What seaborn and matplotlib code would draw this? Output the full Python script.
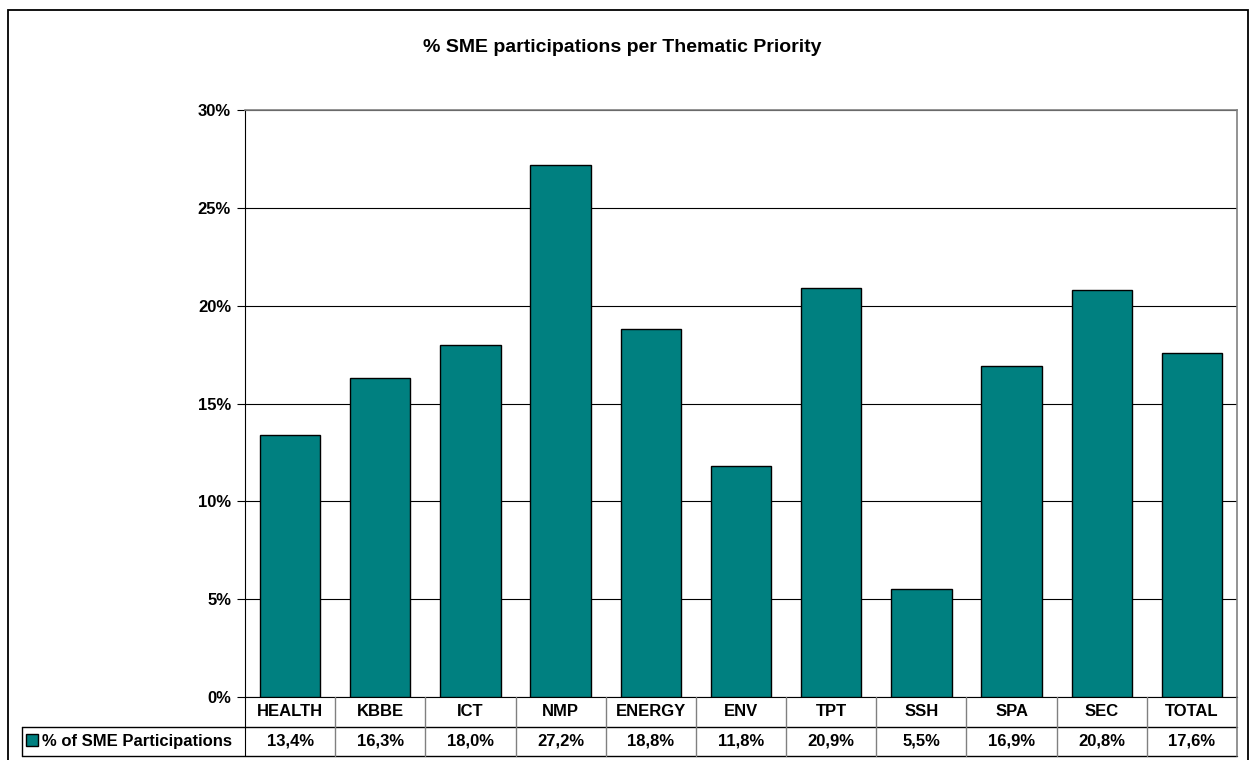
import numpy as np
import pandas as pd
import matplotlib
matplotlib.use("Agg")
import matplotlib.pyplot as plt
import matplotlib.transforms as mtrans
from matplotlib.lines import Line2D
from matplotlib.patches import Rectangle
from matplotlib.ticker import PercentFormatter, MultipleLocator
import seaborn as sns

# data
temi = ["HEALTH", "KBBE", "ICT", "NMP", "ENERGY", "ENV", "TPT", "SSH", "SPA", "SEC", "TOTAL"]
quota_pmi = [13.4, 16.3, 18.0, 27.2, 18.8, 11.8, 20.9, 5.5, 16.9, 20.8, 17.6]
nome_serie = "% of SME Participations"
titolo = "% SME participations per Thematic Priority"

TEAL = "#008080"
W, H = 1249, 760

sns.set_style("white")
plt.rcParams["font.family"] = ["Liberation Sans", "DejaVu Sans"]
plt.rcParams["font.weight"] = "bold"
plt.rcParams["text.color"] = "black"
plt.rcParams["ytick.color"] = "black"
plt.rcParams["ytick.labelcolor"] = "black"

df = pd.DataFrame({"tema": temi, "quota": quota_pmi})

fig = plt.figure(figsize=(W / 100, H / 100), dpi=100)
# plot area in pixels: left 245, right 1237, top 110, bottom 697
ax = fig.add_axes([245 / W, 1 - 697 / H, (1237 - 245) / W, (697 - 110) / H])

sns.barplot(data=df, x="tema", y="quota", color=TEAL, saturation=1,
            edgecolor="black", linewidth=1.0, width=0.67, ax=ax, zorder=3)

ax.set_ylim(0, 30)
ax.set_xlim(-0.5, len(temi) - 0.5)
ax.yaxis.set_major_locator(MultipleLocator(5))
ax.yaxis.set_major_formatter(PercentFormatter(decimals=0))
ax.grid(axis="y", color="black", linewidth=0.8, zorder=0)
ax.set_axisbelow(True)
ax.set_xlabel("")
ax.set_ylabel("")
ax.set_xticks([])
ax.tick_params(axis="y", which="major", left=True, length=6, width=0.8,
               color="black", labelcolor="black", labelsize=12, pad=4)
for lab in ax.get_yticklabels():
    lab.set_fontweight("bold")
for s in ["top", "right"]:
    ax.spines[s].set_color("#808080")
    ax.spines[s].set_linewidth(1.2)
ax.spines["left"].set_color("black")
ax.spines["bottom"].set_color("black")
ax.spines["left"].set_linewidth(0.8)
ax.spines["bottom"].set_linewidth(0.8)

fig.text(0.5 - 2 / W, 1 - 47 / H, titolo, ha="center", va="center",
         fontsize=14, fontweight="bold", color="black")

# data table under the axis
def fy(y):
    return 1 - y / H

blend = mtrans.blended_transform_factory(ax.transData, fig.transFigure)
y_top, y_mid, y_bot = 697, 727, 756
x_left_legend = 22 / W
x_axis = 245 / W
x_right = 1237 / W

# horizontal lines
fig.add_artist(Line2D([x_left_legend, x_right], [fy(y_mid), fy(y_mid)], color="black", lw=1.0))
fig.add_artist(Line2D([x_left_legend, x_right], [fy(y_bot), fy(y_bot)], color="black", lw=1.0))
fig.add_artist(Line2D([x_left_legend, x_left_legend], [fy(y_mid), fy(y_bot)], color="black", lw=1.0))
fig.add_artist(Line2D([x_axis, x_axis], [fy(y_top), fy(y_bot)], color="black", lw=0.8))
fig.add_artist(Line2D([x_right, x_right], [fy(y_top), fy(y_bot)], color="#808080", lw=1.2))

# vertical separators between categories
for i in range(1, len(temi)):
    line = Line2D([i - 0.5, i - 0.5], [fy(y_top), fy(y_bot)], color="#808080",
                  lw=1.0, transform=blend)
    fig.add_artist(line)

for i, (t, v) in enumerate(zip(temi, quota_pmi)):
    fig.text(i, fy((y_top + y_mid) / 2), t, transform=blend, ha="center",
             va="center", fontsize=12, fontweight="bold", color="black")
    fig.text(i, fy((y_mid + y_bot) / 2), f"{v:.1f}%".replace(".", ","),
             transform=blend, ha="center", va="center", fontsize=12,
             fontweight="bold", color="black")

# legend key and series name
fig.add_artist(Rectangle((26 / W, fy(746)), 12 / W, 12 / H, facecolor=TEAL,
                         edgecolor="black", lw=1.0))
fig.text(42 / W, fy((y_mid + y_bot) / 2), nome_serie, ha="left", va="center",
         fontsize=12, fontweight="bold", color="black")

# outer chart border
fig.add_artist(Rectangle((8 / W, -0.01), (1248 - 8) / W, fy(10) + 0.01,
                         fill=False, edgecolor="black", lw=1.3))

fig.savefig("out.png", dpi=100)
